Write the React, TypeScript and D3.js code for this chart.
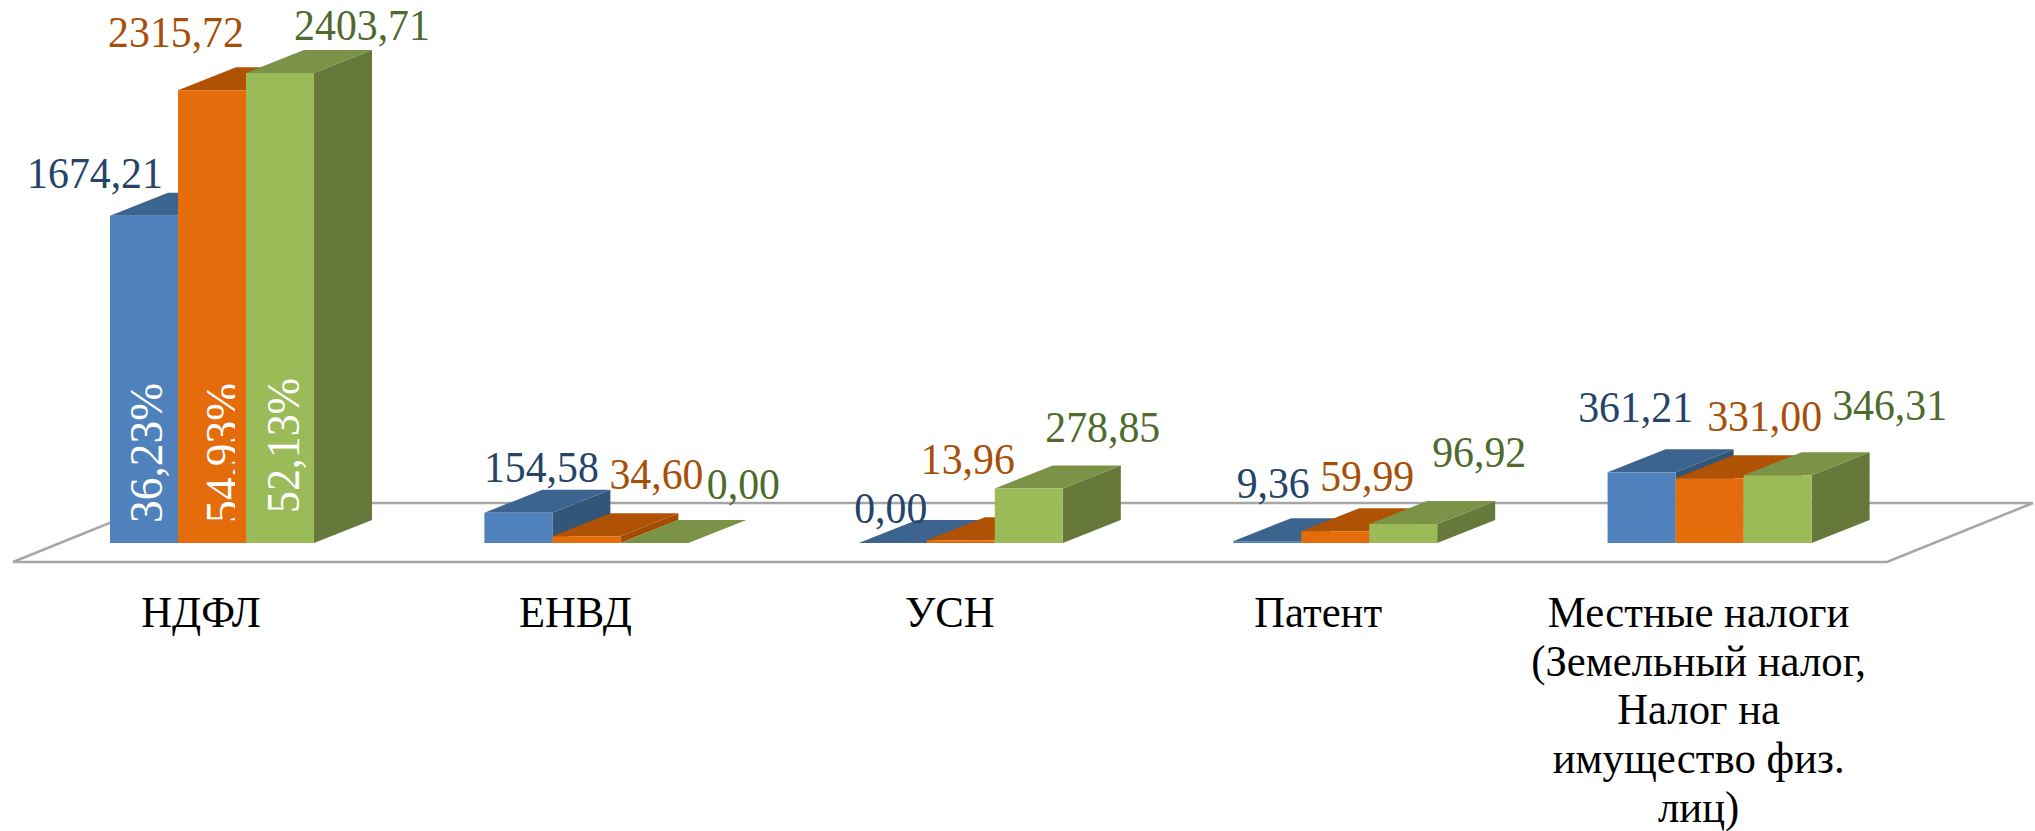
import React from 'react';
import * as d3 from 'd3';

const categories = ['НДФЛ', 'ЕНВД', 'УСН', 'Патент', 'Местные налоги (Земельный налог, Налог на имущество физ. лиц)'];
const categoryLines = [
  ['НДФЛ'],
  ['ЕНВД'],
  ['УСН'],
  ['Патент'],
  ['Местные налоги', '(Земельный налог,', 'Налог на', 'имущество физ.', 'лиц)'],
];

const seriesA = [1674.21, 154.58, 0, 9.36, 361.21];
const seriesB = [2315.72, 34.6, 13.96, 59.99, 331.0];
const seriesC = [2403.71, 0, 278.85, 96.92, 346.31];
const allSeries = [seriesA, seriesB, seriesC];

// only the first group carries share labels
const shares = ['36,23%', '54,93%', '52,13%'];

// hand placed data labels, relative to the top centre of each bar
const labelNudges = [
  [[-49, -28], [23, -31], [-2, -20], [6, -43], [-6, -50]],
  [[-36, -43], [70, -47], [7, -66], [32, -40], [55, -47]],
  [[82, -33], [89, -44], [74, -46], [76, -57], [112, -55]],
];
const shareNudges = [
  { x: 18, y: -20, length: 140 },
  { x: 26, y: -20, length: 140 },
  { x: 19, y: -30, length: 135 },
];
const categoryNudges = [0, 0, 0, -6, 0];

const palette = [
  { front: '#4f81bd', top: '#3d638f', side: '#335678', text: '#254468' },
  { front: '#e46c0a', top: '#b05204', side: '#a34c03', text: '#a84f07' },
  { front: '#9bbb59', top: '#7a9346', side: '#66783a', text: '#4f6a2c' },
];

const WIDTH = 2035;
const HEIGHT = 831;
const BASE_Y = 543;
const TOP_Y = 73;
const BAR_W = 68;
const DEPTH_X = 58;
const DEPTH_Y = 23;
const FONT = '"Liberation Serif", "Times New Roman", serif';

const x = d3.scaleBand<string>().domain(categories).range([110, 110 + 374.4 * 5]).paddingInner(0).paddingOuter(0);
const y = d3.scaleLinear().domain([0, 2403.71]).range([BASE_Y, TOP_Y]);
const inner = d3.scaleBand<number>().domain([0, 1, 2]).range([0, BAR_W * 3]);
const fmt = (v: number) => d3.format('.2f')(v).replace('.', ',');

const poly = (pts: number[][]) => (d3.line()(pts as [number, number][]) as string) + 'Z';

function Bar({ left, top, color }: { left: number; top: number; color: typeof palette[0] }) {
  const right = left + BAR_W;
  return (
    <g>
      <path
        d={poly([[right, top], [right + DEPTH_X, top - DEPTH_Y], [right + DEPTH_X, BASE_Y - DEPTH_Y], [right, BASE_Y]])}
        fill={color.side}
      />
      <path
        d={poly([[left, top], [left + DEPTH_X, top - DEPTH_Y], [right + DEPTH_X, top - DEPTH_Y], [right, top]])}
        fill={color.top}
      />
      <rect x={left} y={top} width={BAR_W} height={BASE_Y - top} fill={color.front} />
    </g>
  );
}

export default function App() {
  const floorY1 = 562;
  const floorY0 = 503;
  return (
    <svg
      width={WIDTH}
      height={HEIGHT}
      style={{ position: 'absolute', left: 0, top: 0, background: '#fff' }}
      fontFamily={FONT}
    >
      {/* the middle share label is cut off in the source */}
      <clipPath id="share-clip">
        <rect x={0} y={0} width={235} height={HEIGHT} />
      </clipPath>

      <path
        d={poly([[13, floorY1], [159, floorY0], [2033, floorY0], [1887, floorY1]])}
        fill="#fff"
        stroke="#a6a6a6"
        strokeWidth={2.5}
      />

      {categories.map((cat, c) => (
        <g key={cat}>
          {allSeries.map((values, s) => {
            const left = (x(cat) as number) + (inner(s) as number);
            const top = y(values[c]);
            return <Bar key={s} left={left} top={top} color={palette[s]} />;
          })}
        </g>
      ))}

      {shares.map((share, s) => {
        const left = (x(categories[0]) as number) + (inner(s) as number);
        const nudge = shareNudges[s];
        return (
          <g key={share} clipPath={s === 1 ? 'url(#share-clip)' : undefined}>
            <text
              transform={`translate(${left + BAR_W / 2 + nudge.x},${BASE_Y + nudge.y}) rotate(-90)`}
              fontSize={47}
              fill="#fff"
              textLength={nudge.length}
              lengthAdjust="spacingAndGlyphs"
            >
              {share}
            </text>
          </g>
        );
      })}

      {categories.map((cat, c) =>
        allSeries.map((values, s) => {
          const cx = (x(cat) as number) + (inner(s) as number) + BAR_W / 2;
          const [dx, dy] = labelNudges[s][c];
          return (
            <text
              key={`${c}-${s}`}
              transform={`translate(${cx + dx},${y(values[c]) + dy}) scale(0.95,1)`}
              textAnchor="middle"
              fontSize={44}
              fill={palette[s].text}
            >
              {fmt(values[c])}
            </text>
          );
        })
      )}

      {categories.map((cat, c) => (
        <g key={cat}>
          {categoryLines[c].map((line, i) => (
            <text
              key={i}
              transform={`translate(${(x(cat) as number) + BAR_W * 1.5 - 11 + categoryNudges[c]},${627 + i * 48.7}) scale(0.95,1)`}
              textAnchor="middle"
              fontSize={45}
              fill="#000"
            >
              {line}
            </text>
          ))}
        </g>
      ))}
    </svg>
  );
}
